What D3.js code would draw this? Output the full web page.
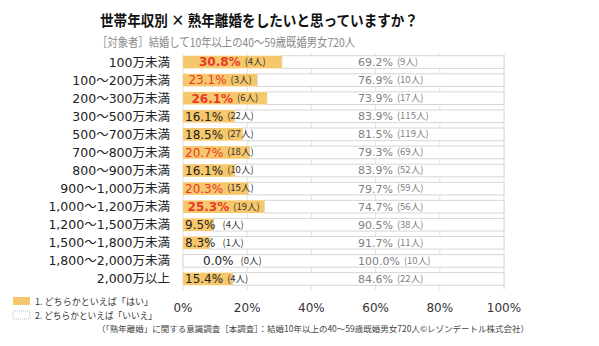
<!DOCTYPE html>
<html>
<head>
<meta charset="utf-8">
<script src="https://cdn.jsdelivr.net/npm/d3@7"></script>
<style>
  body { margin: 0; background: #fff; }
  svg { display: block; font-family: "Noto Sans CJK JP", "Noto Sans", sans-serif; }
  .num { font-family: "DejaVu Sans", "Noto Sans CJK JP", sans-serif; }
</style>
</head>
<body>
<svg id="chart" width="599" height="346"></svg>
<script>
// income brackets (top to bottom)
const categories = [
  "100万未満", "100～200万未満", "200～300万未満", "300～500万未満",
  "500～700万未満", "700～800万未満", "800～900万未満", "900～1,000万未満",
  "1,000～1,200万未満", "1,200～1,500万未満", "1,500～1,800万未満",
  "1,800～2,000万未満", "2,000万以上"
];
// 1. どちらかといえば「はい」
const yesPct = [30.8, 23.1, 26.1, 16.1, 18.5, 20.7, 16.1, 20.3, 25.3, 9.5, 8.3, 0.0, 15.4];
const yesN   = [4, 3, 6, 22, 27, 18, 10, 15, 19, 4, 1, 0, 4];
// 2. どちらかといえば「いいえ」
const noPct  = [69.2, 76.9, 73.9, 83.9, 81.5, 79.3, 83.9, 79.7, 74.7, 90.5, 91.7, 100.0, 84.6];
const noN    = [9, 10, 17, 115, 119, 69, 52, 59, 56, 38, 11, 10, 22];

const ticks = [0, 20, 40, 60, 80, 100];
const legendLabels = ["1. どちらかといえば「はい」", "2. どちらかといえば「いいえ」"];

const TITLE = "世帯年収別 × 熟年離婚をしたいと思っていますか？";
const SUBTITLE = "［対象者］結婚して10年以上の40～59歳既婚男女720人";
const FOOTER = "（「熟年離婚」に関する意識調査［本調査］：結婚10年以上の40～59歳既婚男女720人©レゾンデートル株式会社）";

const YES_COLOR = "#f6c86b";
const svg = d3.select("#chart");

const x = d3.scaleLinear().domain([0, 100]).range([183, 504]);
const y = d3.scaleBand().domain(categories).range([53, 288]).paddingInner(0.3).paddingOuter(0.15);

// title + subtitle
svg.append("text")
  .attr("x", 100).attr("y", 26)
  .attr("font-size", 15).attr("font-weight", "bold").attr("fill", "#111")
  .attr("textLength", 318).attr("lengthAdjust", "spacingAndGlyphs")
  .text(TITLE);

svg.append("text")
  .attr("x", 97).attr("y", 47)
  .attr("font-size", 12).attr("fill", "#8a8a8a")
  .attr("textLength", 258).attr("lengthAdjust", "spacingAndGlyphs")
  .text(SUBTITLE);

// gridlines
svg.append("g")
  .selectAll("line")
  .data(ticks)
  .join("line")
  .attr("x1", (d) => x(d)).attr("x2", (d) => x(d))
  .attr("y1", 53).attr("y2", 290)
  .attr("stroke", "#e2e2e2").attr("stroke-width", 1);

const rows = svg.append("g")
  .selectAll("g")
  .data(categories.map((c, i) => ({ c, i })))
  .join("g");

// "いいえ" bars (white with grey border)
rows.append("rect")
  .attr("x", (d) => x(yesPct[d.i]))
  .attr("y", (d) => y(d.c))
  .attr("width", (d) => x(100) - x(yesPct[d.i]))
  .attr("height", y.bandwidth())
  .attr("fill", "#fff").attr("stroke", "#d6d6d6").attr("stroke-width", 1);

// "はい" bars
rows.append("rect")
  .attr("x", x(0))
  .attr("y", (d) => y(d.c))
  .attr("width", (d) => x(yesPct[d.i]) - x(0))
  .attr("height", y.bandwidth())
  .attr("fill", YES_COLOR);

// category labels
rows.append("text")
  .attr("class", "num")
  .attr("x", 170)
  .attr("y", (d) => y(d.c) + y.bandwidth() / 2)
  .attr("dy", "0.36em")
  .attr("text-anchor", "end")
  .attr("font-size", 12.5).attr("fill", "#222")
  .text((d) => d.c);

// "はい" value labels
rows.each(function (d) {
  const g = d3.select(this);
  const v = yesPct[d.i];
  const cy = y(d.c) + y.bandwidth() / 2;
  const red = v >= 20;
  const pct = g.append("text")
    .attr("class", "num")
    .attr("y", cy).attr("dy", "0.36em")
    .attr("font-size", 12)
    .attr("font-weight", v >= 25 ? "bold" : "normal")
    .attr("fill", red ? "#e8382c" : "#222")
    .text(v.toFixed(1) + "%");
  const cnt = g.append("text")
    .attr("y", cy).attr("dy", "0.3em")
    .attr("font-size", 9.5).attr("fill", "#333")
    .text("(" + yesN[d.i] + "人)");
  const w1 = pct.node().getComputedTextLength();
  const gap = v < 10 ? 7 : 4;
  const w2 = cnt.node().getComputedTextLength();
  const center = (x(0) + x(v)) / 2;
  let start = Math.max(x(0) + 2, center - (w1 + gap + w2) / 2);
  if (v === 0) start = x(0) + 20;
  pct.attr("x", start);
  cnt.attr("x", start + w1 + gap);
});

// "いいえ" value labels
rows.each(function (d) {
  const g = d3.select(this);
  const cy = y(d.c) + y.bandwidth() / 2;
  const pct = g.append("text")
    .attr("class", "num")
    .attr("x", x(54.5)).attr("y", cy).attr("dy", "0.36em")
    .attr("font-size", 11).attr("fill", "#808080")
    .text(noPct[d.i].toFixed(1) + "%");
  const w1 = pct.node().getComputedTextLength();
  g.append("text")
    .attr("x", x(54.5) + w1 + 4).attr("y", cy).attr("dy", "0.3em")
    .attr("font-size", 9.5).attr("fill", "#808080")
    .text("(" + noN[d.i] + "人)");
});

// axis tick labels
svg.append("g")
  .selectAll("text")
  .data(ticks)
  .join("text")
  .attr("class", "num")
  .attr("x", (d) => x(d)).attr("y", 312)
  .attr("text-anchor", "middle")
  .attr("font-size", 12).attr("fill", "#333")
  .text((d) => d + "%");

// legend
const legend = svg.append("g")
  .selectAll("g")
  .data(legendLabels)
  .join("g")
  .attr("transform", (d, i) => `translate(13,${297 + i * 14})`);

legend.append("rect")
  .attr("width", 17).attr("height", 8)
  .attr("fill", (d, i) => (i === 0 ? YES_COLOR : "#fff"))
  .attr("stroke", (d, i) => (i === 0 ? "none" : "#bbb"))
  .attr("stroke-dasharray", "1,1");

legend.append("text")
  .attr("x", 22).attr("y", 4.5).attr("dy", "0.36em")
  .attr("font-size", 9.5).attr("fill", "#333")
  .attr("textLength", (d, i) => (i === 0 ? 118 : 122))
  .attr("lengthAdjust", "spacingAndGlyphs")
  .text((d) => d);

// footer
svg.append("text")
  .attr("x", 313).attr("y", 332)
  .attr("text-anchor", "middle")
  .attr("font-size", 8.5).attr("fill", "#444")
  .text(FOOTER);
</script>
</body>
</html>
